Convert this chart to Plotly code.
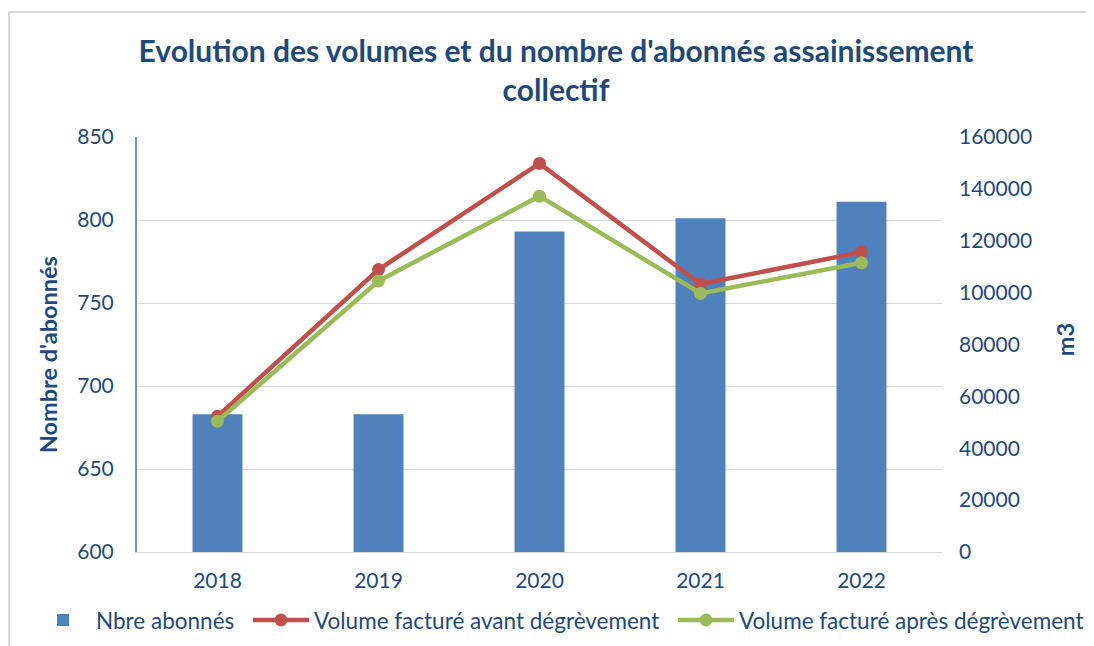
import plotly.graph_objects as go

years = ["2018", "2019", "2020", "2021", "2022"]
abonnes = [683, 683, 793, 801, 811]
vol_avant = [52300, 108900, 149800, 103300, 115600]
vol_apres = [50400, 104500, 137200, 99700, 111500]

blue_txt = "#1F497D"
font_fam = "Lato, 'Open Sans', sans-serif"

OFF = 8  # page offset of the figure
W, H = 1094 - OFF, 646 - OFF
# plot area in page pixels
PL, PR, PT, PB = 137, 942, 137, 551.7
L, R, T, B = PL - OFF, W - (PR - OFF), PT - OFF, H - (PB - OFF)
pw, ph = W - L - R, H - T - B

def px_x(p):
    return (p - OFF - L) / pw

def px_y(p):
    return (H - B - (p - OFF)) / ph

fig = go.Figure()
fig.add_trace(go.Bar(x=years, y=abonnes, name="Nbre abonnés", marker=dict(color="#4F81BD", line=dict(width=0)),
                     yaxis="y", legend="legend"))
fig.add_trace(go.Scatter(x=years, y=vol_avant, name="Volume facturé avant dégrèvement", mode="lines+markers",
                         line=dict(color="#C0504D", width=4.5), marker=dict(size=13, color="#C0504D"),
                         yaxis="y2", legend="legend2"))
fig.add_trace(go.Scatter(x=years, y=vol_apres, name="Volume facturé après dégrèvement", mode="lines+markers",
                         line=dict(color="#9BBB59", width=4.5), marker=dict(size=13, color="#9BBB59"),
                         yaxis="y2", legend="legend3"))

leg_common = dict(orientation="h", xanchor="left", y=px_y(620), yanchor="middle",
                  bgcolor="rgba(0,0,0,0)", font=dict(size=22.5, color=blue_txt), itemwidth=56)

fig.update_layout(
    width=W, height=H,
    paper_bgcolor="white", plot_bgcolor="white",
    font=dict(family=font_fam, color=blue_txt, size=21),
    margin=dict(l=L, r=R, t=T, b=B, autoexpand=False),
    bargap=0.69,
    title=dict(text="<b>Evolution des volumes et du nombre d'abonnés assainissement<br>collectif</b>",
               x=(556 - OFF)/W, xanchor="center", y=1-54/H, yanchor="middle",
               font=dict(size=30, color=blue_txt, family=font_fam)),
    xaxis=dict(showline=True, linecolor="#d9d9d9", linewidth=1, showgrid=False, ticks="",
               ticklabelstandoff=10,
               tickfont=dict(size=21, color=blue_txt), automargin=False),
    yaxis=dict(range=[600, 850], dtick=50, showgrid=True, gridcolor="#d9d9d9", gridwidth=1,
               showline=True, linecolor="#7094c4", linewidth=2, zeroline=False, ticks="",
               ticklabelstandoff=17,
               tickfont=dict(size=21, color=blue_txt), automargin=False),
    yaxis2=dict(range=[0, 160000], dtick=20000, tickformat="d", overlaying="y", side="right", showgrid=False,
                zeroline=False, showline=False, ticks="", automargin=False, ticklabelstandoff=16,
                tickfont=dict(size=21, color=blue_txt)),
    legend=dict(x=px_x(30), **leg_common),
    legend2=dict(x=px_x(248), **leg_common),
    legend3=dict(x=px_x(673), **leg_common),
    showlegend=True,
)
fig.add_annotation(text="<b>Nombre d'abonnés</b>", xref="paper", yref="paper", x=px_x(48), y=px_y(355),
                   textangle=-90, showarrow=False, font=dict(size=23.5, color=blue_txt), xanchor="center", yanchor="middle")
fig.add_annotation(text="<b>m3</b>", xref="paper", yref="paper", x=px_x(1065), y=px_y(340),
                   textangle=-90, showarrow=False, font=dict(size=23.5, color=blue_txt), xanchor="center", yanchor="middle")
fig.add_shape(type="rect", xref="paper", yref="paper",
              x0=px_x(9), x1=1.5, y0=-0.6, y1=px_y(12),
              line=dict(color="#d9d9d9", width=2), fillcolor="rgba(0,0,0,0)", layer="below")

fig.write_html("out.html")
